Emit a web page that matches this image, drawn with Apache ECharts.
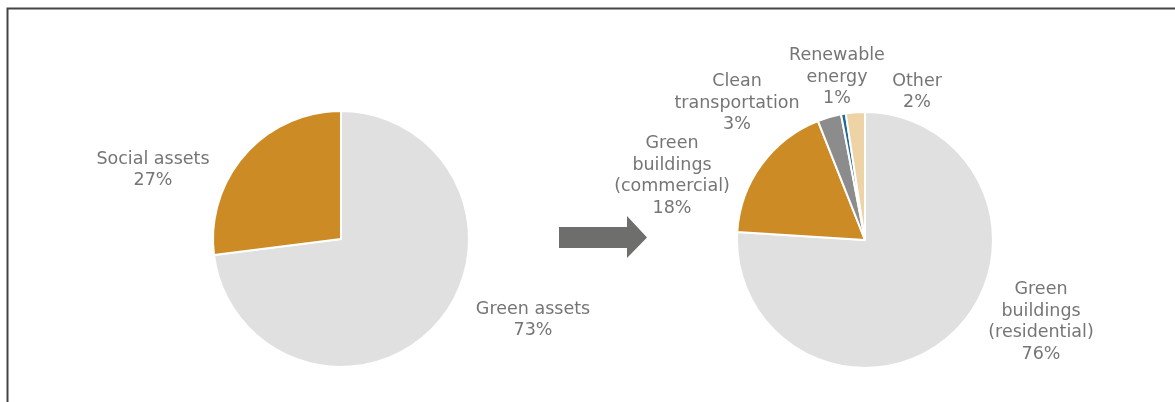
<!DOCTYPE html>
<html>
<head>
<meta charset="utf-8">
<script src="https://cdn.jsdelivr.net/npm/echarts@6/dist/echarts.min.js"></script>
<style>
    html, body {margin: 0; padding: 0; background: #fff;}
    #main {width: 1175px; height: 402px;}
</style>
</head>
<body>
<div id="main"></div>
<script>
// 左边饼图
var beforeNames = ['Green assets', 'Social assets'];
var beforeValues = [73, 27];
var beforeColors = ['#e0e0e0', '#cc8b24'];

// 右边饼图
var afterNames = ['Green\nbuildings\n(residential)', 'Green\nbuildings\n(commercial)', 'Clean\ntransportation', 'Renewable\nenergy', 'Other'];
var afterValues = [76, 18, 3, 0.6, 2.4];
var afterColors = ['#e0e0e0', '#cc8b24', '#8c8c8c', '#1f6a96', '#edd3a6'];

// 标签位置 (文字块中心)
var beforeLabelPos = [[533, 320], [153, 170]];
var afterLabelPos = [[1041, 322], [672, 176], [737, 103], [837, 77], [917, 92]];

var myChart = echarts.init(document.getElementById('main'));

function makeData(names, values, colors) {
    var arr = [];
    for (var i = 0; i < names.length; i++) {
        arr.push({name: names[i], value: values[i], itemStyle: {color: colors[i]}});
    }
    return arr;
}

function pctLabel(p) {
    return p.name + '\n' + Math.round(p.value) + '%';
}

var labelStyle = {
    show: true,
    position: 'outside',
    color: '#757575',
    fontFamily: 'DejaVu Sans',
    fontSize: 17.5,
    lineHeight: 21.5,
    align: 'center',
    formatter: pctLabel
};

function layoutFn(posList) {
    return function (params) {
        var p = posList[params.dataIndex];
        return {x: p[0], y: p[1], align: 'center', verticalAlign: 'middle'};
    };
}

var option = {
    animation: false,
    graphic: [
        {   // 外框
            type: 'polyline',
            shape: {points: [[7.5, 402], [7.5, 8.5], [1175, 8.5]]},
            style: {stroke: '#444', lineWidth: 2, fill: null}
        },
        {   // 箭头
            type: 'polygon',
            shape: {points: [[559, 227], [627, 227], [627, 216], [647, 237.5], [627, 258], [627, 248], [559, 248]]},
            style: {fill: '#6e6e6c'}
        }
    ],
    series: [
        {
            name: 'before',
            type: 'pie',
            center: [341, 239],
            radius: 128,
            startAngle: 90,
            clockwise: true,
            avoidLabelOverlap: false,
            itemStyle: {borderColor: '#fff', borderWidth: 2},
            label: labelStyle,
            labelLine: {show: false},
            labelLayout: layoutFn(beforeLabelPos),
            data: makeData(beforeNames, beforeValues, beforeColors)
        },
        {
            name: 'after',
            type: 'pie',
            center: [865, 240],
            radius: 128,
            startAngle: 90,
            clockwise: true,
            avoidLabelOverlap: false,
            itemStyle: {borderColor: '#fff', borderWidth: 2},
            label: labelStyle,
            labelLine: {show: false},
            labelLayout: layoutFn(afterLabelPos),
            data: makeData(afterNames, afterValues, afterColors)
        }
    ]
};
myChart.setOption(option);
</script>
</body>
</html>
